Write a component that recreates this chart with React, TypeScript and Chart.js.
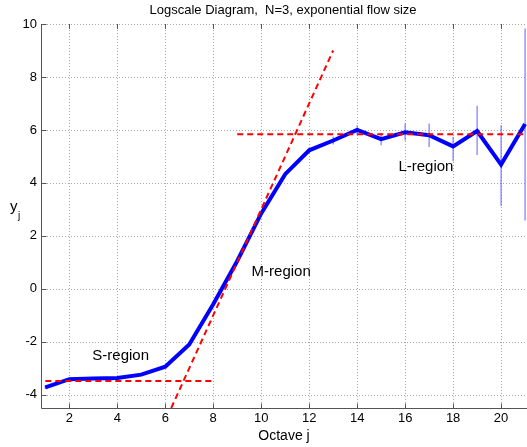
import React, { useEffect, useRef } from "react";
import { Chart, registerables } from "chart.js";

Chart.register(...registerables);

// ---- data ----
const octaves = [1, 2, 3, 4, 5, 6, 7, 8, 9, 10, 11, 12, 13, 14, 15, 16, 17, 18, 19, 20, 21];
const yj = [-3.72, -3.41, -3.39, -3.37, -3.24, -2.94, -2.1, -0.58, 1.05, 2.85, 4.33, 5.23, 5.6, 6.0, 5.65, 5.91, 5.8, 5.38, 5.96, 4.69, 6.22];
const errLow = [-3.78, -3.46, -3.44, -3.42, -3.29, -2.99, -2.15, -0.64, 0.98, 2.77, 4.24, 5.12, 5.45, 5.8, 5.42, 5.6, 5.36, 4.82, 5.05, 3.13, 2.58];
const errHigh = [-3.66, -3.36, -3.34, -3.32, -3.19, -2.89, -2.05, -0.52, 1.12, 2.93, 4.42, 5.34, 5.75, 6.18, 5.88, 6.25, 6.24, 5.74, 6.91, 6.18, 9.83];

const sFitX = [1, 8];
const sFitY = [-3.48, -3.48];
const mFitX = [6.25, 13];
const mFitY = [-4.5, 9];
const lFitX = [9, 21];
const lFitY = [5.84, 5.84];

const xTicks = [2, 4, 6, 8, 10, 12, 14, 16, 18, 20];
const yTicks = [-4, -2, 0, 2, 4, 6, 8, 10];

const titleText = "Logscale Diagram,  N=3, exponential flow size";
const xLabel = "Octave j";
const regionNames = ["S-region", "M-region", "L-region"];
const regionAtX = [2.96, 9.6, 15.72];
const regionAtY = [-2.69, 0.48, 4.45];

const FONT = "'Liberation Sans', Arial, Helvetica, sans-serif";

const framePlugin = {
  id: "matlabFrame",
  beforeDatasetsDraw(chart: any) {
    const { ctx, chartArea, scales } = chart;
    const { left, right, top, bottom } = chartArea;
    const xs = scales.x;
    const ys = scales.y;
    ctx.save();
    ctx.strokeStyle = "#a8a8a8";
    ctx.lineWidth = 1;
    ctx.setLineDash([1, 2]);
    ctx.beginPath();
    xTicks.forEach((v) => {
      const px = Math.round(xs.getPixelForValue(v)) + 0.5;
      ctx.moveTo(px, top);
      ctx.lineTo(px, bottom);
    });
    yTicks.forEach((v) => {
      const py = Math.round(ys.getPixelForValue(v)) + 0.5;
      ctx.moveTo(left, py);
      ctx.lineTo(right, py);
    });
    ctx.stroke();
    ctx.restore();
  },
  afterDraw(chart: any) {
    const { ctx, chartArea, scales } = chart;
    const { left, right, top, bottom } = chartArea;
    const xs = scales.x;
    const ys = scales.y;
    ctx.save();
    // axes
    ctx.strokeStyle = "#555555";
    ctx.lineWidth = 1;
    ctx.beginPath();
    const lx = Math.round(left) + 0.5;
    const by = Math.round(bottom) + 0.5;
    ctx.moveTo(lx, Math.round(top));
    ctx.lineTo(lx, by);
    ctx.lineTo(right, by);
    // ticks inward
    const tl = 5;
    xTicks.forEach((v) => {
      const px = Math.round(xs.getPixelForValue(v)) + 0.5;
      ctx.moveTo(px, by);
      ctx.lineTo(px, by - tl);
      ctx.moveTo(px, top);
      ctx.lineTo(px, top + tl);
    });
    yTicks.forEach((v) => {
      const py = Math.round(ys.getPixelForValue(v)) + 0.5;
      ctx.moveTo(lx, py);
      ctx.lineTo(lx + tl, py);
    });
    ctx.stroke();

    // title
    ctx.fillStyle = "#000";
    ctx.textAlign = "center";
    ctx.textBaseline = "alphabetic";
    ctx.font = `13px ${FONT}`;
    ctx.fillText(titleText, (left + right) / 2 - 1, 14);

    // x label
    ctx.font = `14px ${FONT}`;
    ctx.fillText(xLabel, (left + right) / 2, 440);

    // y label
    ctx.textAlign = "left";
    ctx.font = `15px ${FONT}`;
    ctx.fillText("y", 10, 211);
    ctx.font = `10px ${FONT}`;
    ctx.fillText("j", 18, 219);

    // region labels
    ctx.font = `15px ${FONT}`;
    regionNames.forEach((name, i) => {
      ctx.fillText(name, xs.getPixelForValue(regionAtX[i]), ys.getPixelForValue(regionAtY[i]));
    });
    ctx.restore();
  },
};

export default function App() {
  const canvasRef = useRef<HTMLCanvasElement | null>(null);

  useEffect(() => {
    const canvas = canvasRef.current;
    if (!canvas) return;
    const errData: any[] = [];
    octaves.forEach((j, i) => {
      errData.push({ x: j, y: errLow[i] }, { x: j, y: errHigh[i] }, { x: j, y: null });
    });
    const fitStyle = {
      borderColor: "#ff0000",
      borderWidth: 2,
      borderDash: [6, 4],
      pointRadius: 0,
      fill: false,
      tension: 0,
    };
    const chart = new Chart(canvas, {
      type: "line",
      data: {
        datasets: [
          { label: "S fit", data: sFitX.map((x, i) => ({ x, y: sFitY[i] })), ...fitStyle, order: 0 },
          { label: "M fit", data: mFitX.map((x, i) => ({ x, y: mFitY[i] })), ...fitStyle, order: 0 },
          { label: "L fit", data: lFitX.map((x, i) => ({ x, y: lFitY[i] })), ...fitStyle, order: 0 },
          {
            label: "yj",
            data: octaves.map((x, i) => ({ x, y: yj[i] })),
            borderColor: "#0000ff",
            borderWidth: 4,
            pointRadius: 0,
            fill: false,
            tension: 0,
            order: 1,
          },
          {
            label: "confidence",
            data: errData,
            borderColor: "rgba(100,100,255,0.85)",
            borderWidth: 1.2,
            pointRadius: 0,
            fill: false,
            spanGaps: false,
            tension: 0,
            order: 2,
          },
        ] as any,
      },
      options: {
        responsive: false,
        animation: false,
        devicePixelRatio: 1,
        layout: { padding: { top: 24, right: 0, left: 0, bottom: 0 } },
        plugins: {
          legend: { display: false },
          tooltip: { enabled: false },
          title: { display: false },
        },
        scales: {
          x: {
            type: "linear",
            min: 0.82,
            max: 21.08,
            afterBuildTicks: (s: any) => {
              s.ticks = xTicks.map((v) => ({ value: v }));
            },
            afterFit: (s: any) => {
              s.height = 39;
            },
            grid: { display: false, drawTicks: false },
            border: { display: false },
            ticks: {
              font: { family: FONT, size: 13 },
              color: "#000",
              padding: 3,
              maxRotation: 0,
              autoSkip: false,
            },
          },
          y: {
            type: "linear",
            min: -4.5,
            max: 10,
            afterBuildTicks: (s: any) => {
              s.ticks = yTicks.map((v) => ({ value: v }));
            },
            afterFit: (s: any) => {
              s.width = 41;
            },
            grid: { display: false, drawTicks: false },
            border: { display: false },
            ticks: {
              font: { family: FONT, size: 13 },
              color: "#000",
              padding: 4,
              autoSkip: false,
            },
          },
        },
      } as any,
      plugins: [framePlugin],
    });
    return () => chart.destroy();
  }, []);

  return (
    <div style={{ position: "absolute", left: 0, top: 0, width: 527, height: 447, background: "#fff" }}>
      <canvas ref={canvasRef} width={527} height={447} style={{ display: "block" }} />
    </div>
  );
}
